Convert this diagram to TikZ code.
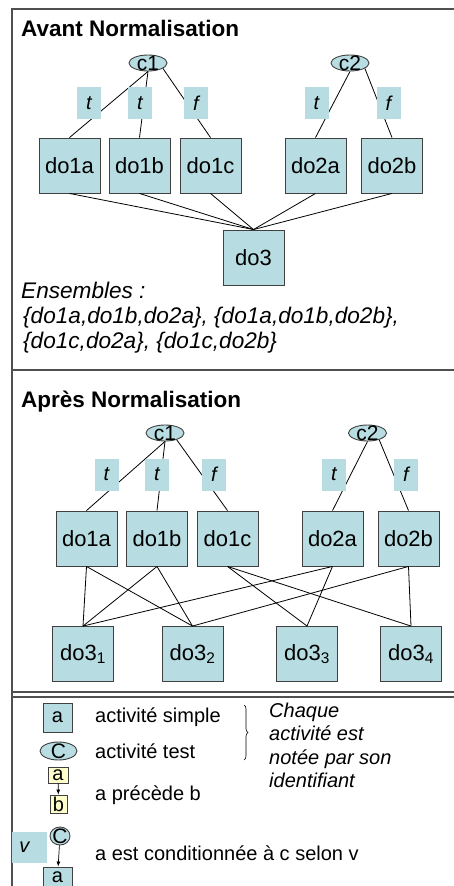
\documentclass[tikz,border=0pt]{standalone}
\usepackage{fontspec}
\setmainfont{Liberation Sans}
\usetikzlibrary{shapes.geometric,decorations.pathreplacing,arrows.meta}
\definecolor{bfill}{RGB}{183,221,226}
\definecolor{bdraw}{RGB}{64,64,64}
\definecolor{yfill}{RGB}{255,255,204}
\definecolor{frame}{RGB}{80,80,80}
\newcommand{\fsz}[1]{\fontsize{#1}{#1}\selectfont}
\begin{document}
\begin{tikzpicture}[x=1pt,y=-1pt,
  box/.style={draw=bdraw, fill=bfill, line width=0.9pt, minimum width=61pt, minimum height=55pt, inner sep=0pt, font=\fsz{22}},
  lbl/.style={fill=bfill, minimum width=24pt, minimum height=32pt, inner sep=0pt, font=\fsz{20}\itshape},
  cond/.style={ellipse, draw=bdraw, fill=bfill, line width=0.9pt, minimum width=38pt, minimum height=16pt, inner sep=0pt},
  ctxt/.style={label={[font=\fsz{21}, inner sep=0pt]center:#1}},
  ybox/.style={draw=bdraw, fill=yfill, line width=0.8pt, inner sep=0pt, font=\fsz{20}},
  edge/.style={draw=black, line width=0.8pt},
  arr/.style={draw=black, line width=0.7pt, -{Latex[length=5pt,width=4pt]}},
  titletxt/.style={font=\fsz{22.5}\bfseries, anchor=base west, inner sep=0pt},
  txt/.style={font=\fsz{22.6}\itshape, anchor=base west, inner sep=0pt},
  legtxt/.style={font=\fsz{20}, anchor=base west, inner sep=0pt},
  legit/.style={font=\fsz{20}\itshape, anchor=base west, inner sep=0pt},
  frameline/.style={draw=frame, line width=1.1pt}
]
\useasboundingbox (0,0) rectangle (453,886);
\fill[white] (0,0) rectangle (453,886);

% frame
\draw[frameline] (12,892) -- (12,9) -- (460,9);
\draw[frameline] (12,370) -- (460,370);
\draw[frameline] (12,692) -- (460,692);
\draw[frameline] (12,697) -- (460,697);

% ===== Avant Normalisation =====
\node[titletxt] (t1) at (21,36) {Avant Normalisation};
\node[cond, ctxt=c1] (ac1) at (148,63) {};
\node[cond, ctxt=c2] (ac2) at (350,63) {};
\node[box] (a1a) at (69.5,165.5) {do1a};
\node[box] (a1b) at (139.5,165.5) {do1b};
\node[box] (a1c) at (210.5,165.5) {do1c};
\node[box] (a2a) at (315.5,165.5) {do2a};
\node[box] (a2b) at (392,165.5) {do2b};
\node[box] (a3) at (253.5,257.5) {do3};
\draw[edge] (ac1.south) -- (a1a.north);
\draw[edge] (ac1.south) -- (a1b.north);
\draw[edge] (ac1.-20) -- (a1c.north);
\draw[edge] (ac2.south) -- (a2a.north);
\draw[edge] (ac2.-20) -- (a2b.north);
\foreach \n in {a1a,a1b,a1c,a2a,a2b} \draw[edge] (\n.south) -- (a3.north);
\node[lbl] (al1) at (89,103) {t};
\node[lbl] (al2) at (140,103) {t};
\node[lbl] (al3) at (196,103) {f};
\node[lbl] (al4) at (316.5,103) {t};
\node[lbl] (al5) at (388.5,103) {f};
\node[txt] (ens) at (21,298) {Ensembles :};
\node[txt] (set1) at (23,323) {\{do1a,do1b,do2a\}, \{do1a,do1b,do2b\},};
\node[txt] (set2) at (23,348) {\{do1c,do2a\}, \{do1c,do2b\}};

% ===== Apres Normalisation =====
\node[titletxt] (t2) at (21,407) {Après Normalisation};
\node[cond, ctxt=c1] (bc1) at (165,433) {};
\node[cond, ctxt=c2] (bc2) at (367.5,433) {};
\node[box] (b1a) at (86.5,538.5) {do1a};
\node[box] (b1b) at (157,538.5) {do1b};
\node[box] (b1c) at (227.5,538.5) {do1c};
\node[box] (b2a) at (332.5,538.5) {do2a};
\node[box] (b2b) at (408.5,538.5) {do2b};
\node[box] (b31) at (83,654) {do3\textsubscript{1}};
\node[box] (b32) at (192.5,654) {do3\textsubscript{2}};
\node[box] (b33) at (307,654) {do3\textsubscript{3}};
\node[box] (b34) at (411,654) {do3\textsubscript{4}};
\draw[edge] (bc1.south) -- (b1a.north);
\draw[edge] (bc1.south) -- (b1b.north);
\draw[edge] (bc1.-30) -- (b1c.north);
\draw[edge] (bc2.south) -- (b2a.north);
\draw[edge] (bc2.-30) -- (b2b.north);
\draw[edge] (b1a.south) -- (b31.north);
\draw[edge] (b1a.south) -- (b32.north);
\draw[edge] (b1b.south) -- (b31.north);
\draw[edge] (b1b.south) -- (b32.north);
\draw[edge] (b1c.south) -- (b33.north);
\draw[edge] (b1c.south) -- (b34.north);
\draw[edge] (b2a.south) -- (b31.north);
\draw[edge] (b2a.south) -- (b33.north);
\draw[edge] (b2b.south) -- (b32.north);
\draw[edge] (b2b.south) -- (b34.north);
\node[lbl] (bl1) at (106.5,474.5) {t};
\node[lbl] (bl2) at (157,474.5) {t};
\node[lbl] (bl3) at (214,474.5) {f};
\node[lbl] (bl4) at (334,474.5) {t};
\node[lbl] (bl5) at (406,474.5) {f};

% ===== Legend =====
\node[box, minimum width=29pt, minimum height=29pt, font=\fsz{20}] (la) at (57.5,717.5) {a};
\node[cond, minimum width=37pt, minimum height=18pt, ctxt=C] (lc) at (58.5,751) {};
\node[ybox, minimum width=20pt, minimum height=16pt] (ya) at (58,775) {a};
\node[ybox, minimum width=17pt, minimum height=18pt] (yb) at (58.5,804) {b};
\draw[arr] (ya) -- (yb);
\node[cond, minimum width=20pt, minimum height=18pt, ctxt=C] (lc2) at (60,836) {};
\node[lbl, minimum width=35pt, minimum height=31pt] (lv) at (29.5,847.5) {\makebox[20pt][l]{v}};
\node[box, minimum width=29pt, minimum height=20pt, font=\fsz{20}] (la2) at (57.5,877) {a};
\draw[arr] (lc2) -- (la2);

\node[legtxt] (lt1) at (95,722) {activité simple};
\node[legtxt] (lt2) at (95,758) {activité test};
\node[legtxt] (lt3) at (95,800) {a précède b};
\node[legtxt] (lt4) at (95,860) {a est conditionnée à c selon v};
\draw[line width=0.6pt, decorate, decoration={brace, amplitude=4pt}] (244,705) -- (244,760);
\node[legit] (ch1) at (269,717) {Chaque};
\node[legit] (ch2) at (269,740.5) {activité est};
\node[legit] (ch3) at (269,764) {notée par son};
\node[legit] (ch4) at (269,787.5) {identifiant};
\end{tikzpicture}
\end{document}
